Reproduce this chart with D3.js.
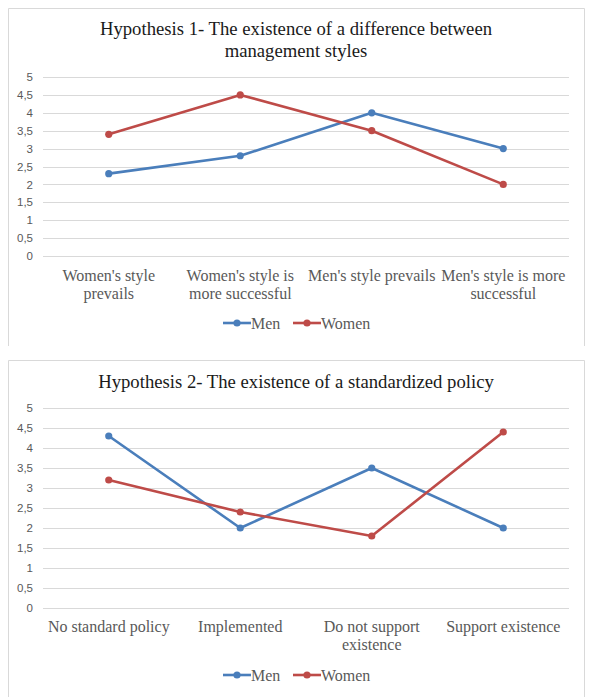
<!DOCTYPE html>
<html>
<head>
<meta charset="utf-8">
<script src="https://cdn.jsdelivr.net/npm/d3@7"></script>
<style>
  body { margin: 0; background: #fff; }
  svg { display: block; }
</style>
</head>
<body>
<svg id="chart" width="592" height="697"></svg>
<script>
// hypothesis 1
const categories1 = [
  ["Women's style", 'prevails'],
  ["Women's style is", 'more successful'],
  ["Men's style prevails"],
  ["Men's style is more", 'successful']
];
const men1 = [2.3, 2.8, 4.0, 3.0];
const women1 = [3.4, 4.5, 3.5, 2.0];
const title1 = ['Hypothesis 1- The existence of a difference between', 'management styles'];

// hypothesis 2
const categories2 = [
  ['No standard policy'],
  ['Implemented'],
  ['Do not support', 'existence'],
  ['Support existence']
];
const men2 = [4.3, 2.0, 3.5, 2.0];
const women2 = [3.2, 2.4, 1.8, 4.4];
const title2 = ['Hypothesis 2- The existence of a standardized policy'];

const yTicks = [0, 0.5, 1, 1.5, 2, 2.5, 3, 3.5, 4, 4.5, 5];
const seriesNames = ['Men', 'Women'];
const colors = ['#4a7ebb', '#be4b48'];

const svg = d3.select('#chart');
const fmt = d => String(d).replace('.', ',');
const serif = '"Liberation Serif", "Times New Roman", serif';

/**
 * draws one framed line chart
 * @param {Object} opt frame path, title, data, and the y of the 0 / 5 gridlines
 * */
function lineChart(opt) {
  const g = svg.append('g');
  // frame
  g.append('path')
    .attr('d', opt.frame)
    .attr('fill', 'none')
    .attr('stroke', '#d9d9d9');

  // title
  g.append('g').selectAll('text')
    .data(opt.title)
    .enter()
    .append('text')
    .attr('x', 296)
    .attr('y', (d, i) => opt.titleY + i * 22)
    .attr('text-anchor', 'middle')
    .attr('font-family', serif)
    .attr('font-size', 18.7)
    .attr('fill', '#1a1a1a')
    .text(d => d);

  const x = d3.scaleBand()
    .domain(d3.range(opt.categories.length))
    .range([43, 569]);
  const cx = i => x(i) + x.bandwidth() / 2;
  const y = d3.scaleLinear()
    .domain([0, 5])
    .range([opt.y0, opt.y5]);

  // gridlines + y labels
  const yAxis = d3.axisLeft(y)
    .tickValues(yTicks)
    .tickSize(-(569 - 43))
    .tickPadding(10)
    .tickFormat(fmt);
  const ax = g.append('g')
    .attr('transform', 'translate(43,0)')
    .call(yAxis);
  ax.select('.domain').remove();
  ax.selectAll('.tick line')
    .attr('stroke', '#d9d9d9')
    .attr('shape-rendering', 'crispEdges');
  ax.selectAll('.tick text')
    .attr('font-family', '"Liberation Sans", Arial, sans-serif')
    .attr('font-size', 11.5)
    .attr('fill', '#595959');

  // category labels
  const cat = g.append('g').selectAll('text')
    .data(opt.categories)
    .enter()
    .append('text')
    .attr('transform', (d, i) => `translate(${cx(i)},0)`)
    .attr('text-anchor', 'middle')
    .attr('font-family', serif)
    .attr('font-size', 16)
    .attr('fill', '#595959');
  cat.selectAll('tspan')
    .data(d => d)
    .enter()
    .append('tspan')
    .attr('x', 0)
    .attr('y', (d, i) => opt.labelY + i * 17.5)
    .text(d => d);

  // lines + markers
  const line = d3.line()
    .x((d, i) => cx(i))
    .y(d => y(d));
  [opt.men, opt.women].forEach((vals, k) => {
    g.append('path')
      .datum(vals)
      .attr('fill', 'none')
      .attr('stroke', colors[k])
      .attr('stroke-width', 2.6)
      .attr('stroke-linejoin', 'round')
      .attr('d', line);
    g.append('g').selectAll('circle')
      .data(vals)
      .enter()
      .append('circle')
      .attr('cx', (d, i) => cx(i))
      .attr('cy', d => y(d))
      .attr('r', 3.6)
      .attr('fill', colors[k]);
  });

  // legend
  const lx = [223, 293];
  seriesNames.forEach((name, k) => {
    const lg = g.append('g').attr('transform', `translate(${lx[k]},${opt.legendY})`);
    lg.append('line')
      .attr('x1', 0).attr('x2', 28)
      .attr('stroke', colors[k])
      .attr('stroke-width', 2.6);
    lg.append('circle')
      .attr('cx', 14)
      .attr('r', 3.6)
      .attr('fill', colors[k]);
    lg.append('text')
      .attr('x', 28)
      .attr('y', 5.5)
      .attr('font-family', serif)
      .attr('font-size', 16)
      .attr('fill', '#595959')
      .text(name);
  });
}

lineChart({
  frame: 'M8.5,346V8.5H584.5V346',
  title: title1,
  titleY: 35,
  categories: categories1,
  men: men1,
  women: women1,
  y5: 77,
  y0: 256,
  labelY: 281,
  legendY: 323
});

lineChart({
  frame: 'M8.5,697V360.5H584.5V697',
  title: title2,
  titleY: 388,
  categories: categories2,
  men: men2,
  women: women2,
  y5: 408,
  y0: 608,
  labelY: 632,
  legendY: 675
});
</script>
</body>
</html>
